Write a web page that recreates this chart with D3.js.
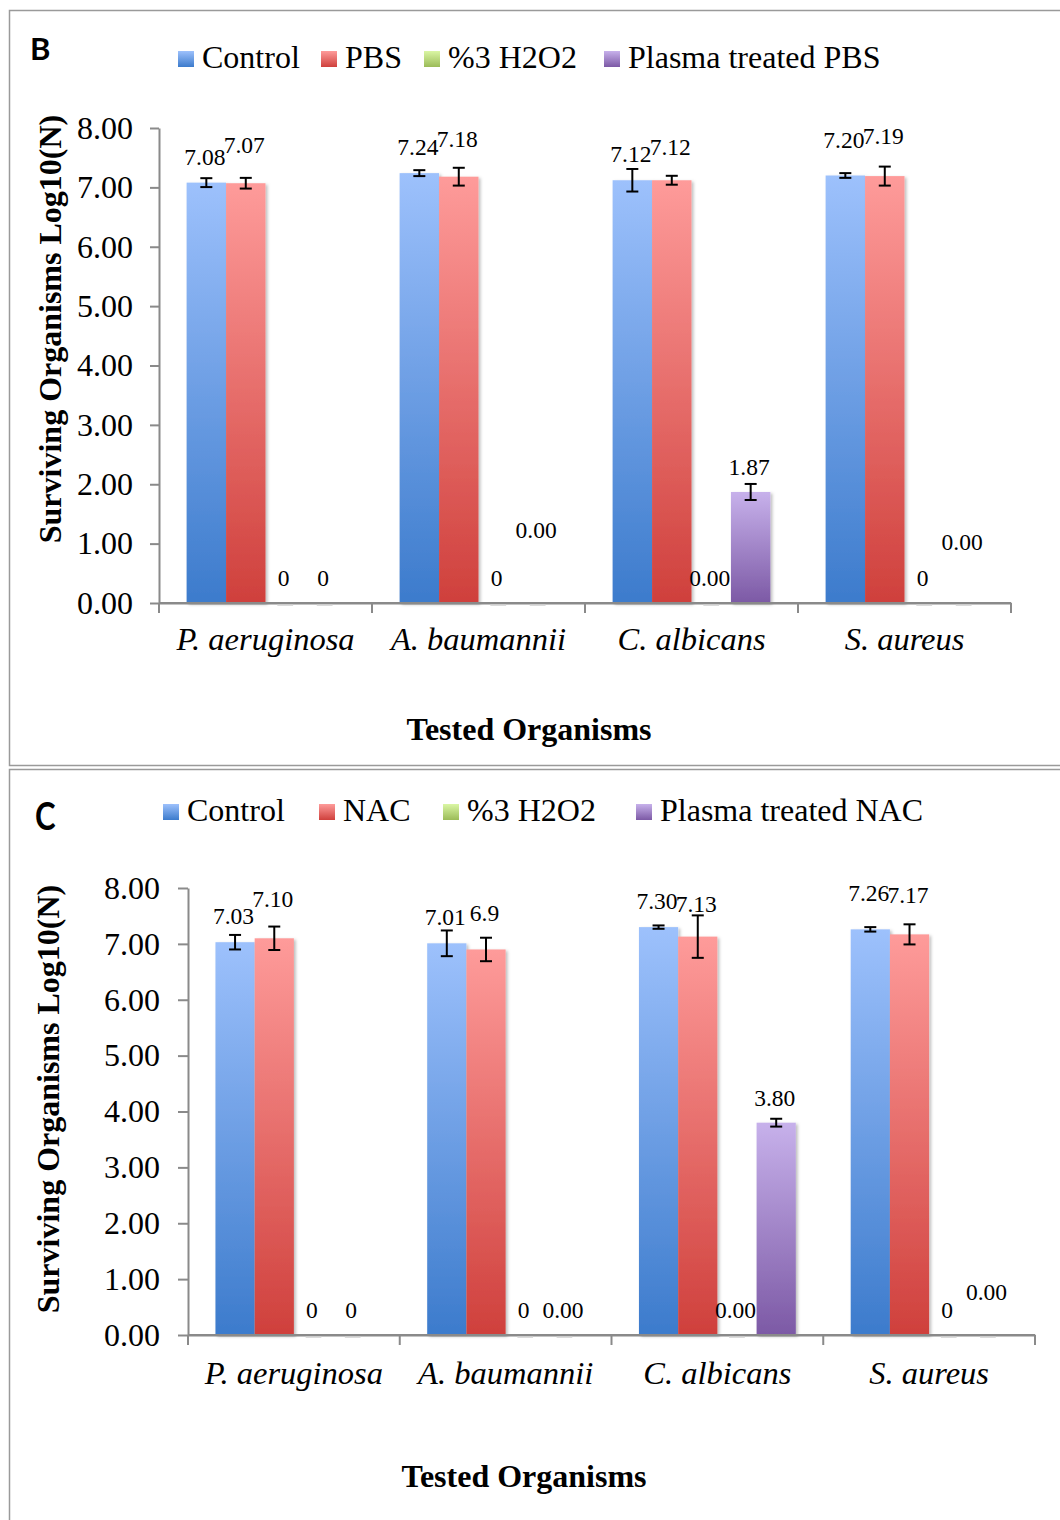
<!DOCTYPE html>
<html>
<head>
<meta charset="utf-8">
<script src="https://cdn.jsdelivr.net/npm/d3@7"></script>
<style>
  html, body { margin: 0; padding: 0; background: #fff; }
  svg { display: block; }
  text { font-family: "Liberation Serif", "Times New Roman", serif; fill: #000; }
</style>
</head>
<body>
<svg id="chart" width="1060" height="1520"></svg>
<script>
// ---------------- DATA ----------------
const organisms = ["P. aeruginosa", "A. baumannii", "C. albicans", "S. aureus"];
const yTicks = [0, 1, 2, 3, 4, 5, 6, 7, 8];

// Panel B
const seriesB = ["Control", "PBS", "%3 H2O2", "Plasma treated PBS"];
const controlB = [7.08, 7.24, 7.12, 7.20];
const pbsB = [7.07, 7.18, 7.12, 7.19];
const h2o2B = [0, 0, 0, 0];
const plasmaPbsB = [0, 0, 1.87, 0];
const controlErrB = [0.075, 0.05, 0.19, 0.04];
const pbsErrB = [0.09, 0.15, 0.075, 0.16];
const h2o2ErrB = [0, 0, 0, 0];
const plasmaPbsErrB = [0, 0, 0.135, 0];
const controlLabB = ["7.08", "7.24", "7.12", "7.20"];
const pbsLabB = ["7.07", "7.18", "7.12", "7.19"];
const h2o2LabB = ["0", "0", "0.00", "0"];
const plasmaPbsLabB = ["0", "0.00", "1.87", "0.00"];

// Panel C
const seriesC = ["Control", "NAC", "%3 H2O2", "Plasma treated NAC"];
const controlC = [7.03, 7.01, 7.30, 7.26];
const nacC = [7.10, 6.9, 7.13, 7.17];
const h2o2C = [0, 0, 0, 0];
const plasmaNacC = [0, 0, 3.80, 0];
const controlErrC = [0.13, 0.23, 0.03, 0.04];
const nacErrC = [0.21, 0.21, 0.38, 0.18];
const h2o2ErrC = [0, 0, 0, 0];
const plasmaNacErrC = [0, 0, 0.07, 0];
const controlLabC = ["7.03", "7.01", "7.30", "7.26"];
const nacLabC = ["7.10", "6.9", "7.13", "7.17"];
const h2o2LabC = ["0", "0", "0.00", "0"];
const plasmaNacLabC = ["0", "0.00", "3.80", "0.00"];

// ---------------- LAYOUT (pixels, not data) ----------------
// label baseline offsets from the value position, [organism][series]
const labelDyB = [[-18, -30, -17, -17], [-18, -30, -17, -65], [-18, -25, -17, -17], [-28, -32, -17, -53]];
const labelDyC = [[-18, -31, -17, -17], [-18, -28, -17, -17], [-18, -25, -17, -17], [-28, -31, -17, -35]];

const gradStops = [
  ["#9dc1fc", "#3c7bcc"],
  ["#fe9b9a", "#cf403c"],
  ["#daf6a4", "#9bbb58"],
  ["#c7b1eb", "#7c59a5"]
];

const svg = d3.select("#chart");
const defs = svg.append("defs");
gradStops.forEach((s, i) => {
  const g = defs.append("linearGradient").attr("id", "g" + i)
    .attr("x1", 0).attr("y1", 0).attr("x2", 0).attr("y2", 1);
  g.append("stop").attr("offset", "0%").attr("stop-color", s[0]);
  g.append("stop").attr("offset", "100%").attr("stop-color", s[1]);
});
const f = defs.append("filter").attr("id", "shadow")
  .attr("x", "-20%").attr("y", "-5%").attr("width", "150%").attr("height", "115%");
f.append("feDropShadow").attr("dx", 2).attr("dy", 1.5).attr("stdDeviation", 1.8)
  .attr("flood-color", "#000").attr("flood-opacity", 0.25);

// panel frames
svg.append("rect").attr("x", 9.5).attr("y", 10.5).attr("width", 1070).attr("height", 755)
  .attr("fill", "none").attr("stroke", "#9a9a9a").attr("stroke-width", 1.5);
svg.append("rect").attr("x", 9.5).attr("y", 769.5).attr("width", 1070).attr("height", 780)
  .attr("fill", "none").attr("stroke", "#9a9a9a").attr("stroke-width", 1.5);

function drawPanel(cfg) {
  const g = svg.append("g");
  // Panel letter
  g.append("text").attr("transform", `translate(${cfg.letterX},${cfg.letterY}) scale(${cfg.letterSX},1)`)
    .style("font-family", "Lato, 'Open Sans', sans-serif").style("font-weight", "bold")
    .style("font-size", cfg.letterSize + "px").text(cfg.letter);

  // Legend
  cfg.series.forEach((s, i) => {
    g.append("rect").attr("x", cfg.legendX[i]).attr("y", cfg.legendY - 17)
      .attr("width", 16).attr("height", 16).attr("fill", "url(#g" + i + ")");
    g.append("text").attr("x", cfg.legendX[i] + 24).attr("y", cfg.legendY)
      .style("font-size", "32px").text(s);
  });

  const y = d3.scaleLinear().domain([0, 8]).range([cfg.bottom, cfg.top]);
  const x = d3.scaleBand().domain(organisms).range([cfg.left, cfg.right]).padding(0);
  const xs = d3.scaleBand().domain(cfg.series).range([0, x.bandwidth()]).paddingOuter(0.7).paddingInner(0);

  // Y axis
  const yAxis = g.append("g").attr("transform", `translate(${cfg.left},0)`)
    .call(d3.axisLeft(y).tickValues(yTicks).tickFormat(d3.format(".2f")).tickSize(cfg.tickLen).tickSizeOuter(0).tickPadding(cfg.tickPad));
  yAxis.selectAll("path, line").attr("stroke", "#8a8a8a").attr("stroke-width", 2);
  yAxis.selectAll("text").style("font-size", "32px").style("font-family", "'Liberation Serif', serif").attr("fill", "#000");

  // X axis
  const xAxis = g.append("g").attr("transform", `translate(0,${cfg.bottom})`)
    .call(d3.axisBottom(x).tickSize(0).tickSizeOuter(0).tickPadding(cfg.catPad));
  xAxis.select("path").attr("stroke", "#8a8a8a").attr("stroke-width", 2);
  xAxis.selectAll("text").style("font-size", "32.5px").style("font-style", "italic")
    .style("font-family", "'Liberation Serif', serif").attr("fill", "#000");
  const bounds = organisms.map(o => x(o)).concat([x.range()[1]]);
  g.selectAll(".xb").data(bounds).join("line")
    .attr("x1", d => d).attr("x2", d => d)
    .attr("y1", cfg.bottom).attr("y2", cfg.bottom + 10)
    .attr("stroke", "#8a8a8a").attr("stroke-width", 2);

  // Bars
  const rows = [];
  organisms.forEach((o, oi) => {
    cfg.series.forEach((s, si) => {
      rows.push({ o, oi, s, si, v: cfg.values[si][oi], e: cfg.errs[si][oi], lab: cfg.labels[si][oi] });
    });
  });
  g.selectAll(".zero").data(rows.filter(d => d.v === 0)).join("line")
    .attr("x1", d => x(d.o) + xs(d.s) + xs.bandwidth() * 0.3)
    .attr("x2", d => x(d.o) + xs(d.s) + xs.bandwidth() * 0.7)
    .attr("y1", cfg.bottom + 2).attr("y2", cfg.bottom + 2)
    .attr("stroke", "#cfcfcf").attr("stroke-width", 1.5);
  g.selectAll(".bar").data(rows.filter(d => d.v > 0)).join("rect")
    .attr("x", d => x(d.o) + xs(d.s))
    .attr("width", xs.bandwidth())
    .attr("y", d => y(d.v))
    .attr("height", d => y(0) - y(d.v))
    .attr("fill", d => `url(#g${d.si})`)
    .attr("filter", "url(#shadow)");
  // redraw axis line over bars
  g.append("line").attr("x1", cfg.left).attr("x2", cfg.right).attr("y1", cfg.bottom).attr("y2", cfg.bottom)
    .attr("stroke", "#8a8a8a").attr("stroke-width", 2);

  // Error bars
  const eb = g.selectAll(".err").data(rows.filter(d => d.e > 0)).join("g");
  const cx = d => x(d.o) + xs(d.s) + xs.bandwidth() / 2;
  eb.append("line").attr("x1", cx).attr("x2", cx)
    .attr("y1", d => y(d.v + d.e)).attr("y2", d => y(d.v - d.e))
    .attr("stroke", "#000").attr("stroke-width", 2);
  eb.append("line").attr("x1", d => cx(d) - 6).attr("x2", d => cx(d) + 6)
    .attr("y1", d => y(d.v + d.e)).attr("y2", d => y(d.v + d.e))
    .attr("stroke", "#000").attr("stroke-width", 2);
  eb.append("line").attr("x1", d => cx(d) - 6).attr("x2", d => cx(d) + 6)
    .attr("y1", d => y(d.v - d.e)).attr("y2", d => y(d.v - d.e))
    .attr("stroke", "#000").attr("stroke-width", 2);

  // Data labels
  g.selectAll(".lab").data(rows).join("text")
    .attr("x", d => cx(d) - 1.5)
    .attr("y", d => y(d.v) + cfg.labelDy[d.oi][d.si])
    .attr("text-anchor", "middle")
    .style("font-size", "23.5px")
    .text(d => d.lab);

  // Axis titles
  g.append("text").attr("transform", `translate(${cfg.yTitleX},${cfg.yTitleY}) rotate(-90)`)
    .attr("text-anchor", "middle").attr("dominant-baseline", "central")
    .style("font-size", "32px").style("font-weight", "bold")
    .text("Surviving Organisms Log10(N)");
  g.append("text").attr("x", cfg.xTitleX).attr("y", cfg.xTitleY)
    .attr("text-anchor", "middle")
    .style("font-size", "32px").style("font-weight", "bold")
    .text("Tested Organisms");
}

drawPanel({
  letter: "B", letterX: 30, letterY: 60, letterSize: 31, letterSX: 1,
  series: seriesB,
  legendX: [178, 321, 424, 604], legendY: 68,
  values: [controlB, pbsB, h2o2B, plasmaPbsB],
  errs: [controlErrB, pbsErrB, h2o2ErrB, plasmaPbsErrB],
  labels: [controlLabB, pbsLabB, h2o2LabB, plasmaPbsLabB],
  labelDy: labelDyB,
  left: 159, right: 1011, top: 128, bottom: 603, catPad: 24, tickLen: 9, tickPad: 17,
  yTitleX: 50, yTitleY: 329, xTitleX: 529, xTitleY: 740
});

drawPanel({
  letter: "C", letterX: 35, letterY: 830, letterSize: 38, letterSX: 0.82,
  series: seriesC,
  legendX: [163, 319, 443, 636], legendY: 821,
  values: [controlC, nacC, h2o2C, plasmaNacC],
  errs: [controlErrC, nacErrC, h2o2ErrC, plasmaNacErrC],
  labels: [controlLabC, nacLabC, h2o2LabC, plasmaNacLabC],
  labelDy: labelDyC,
  left: 188, right: 1035, top: 888, bottom: 1335, catPad: 26, tickLen: 10, tickPad: 18,
  yTitleX: 48, yTitleY: 1099, xTitleX: 524, xTitleY: 1487
});
</script>
</body>
</html>
